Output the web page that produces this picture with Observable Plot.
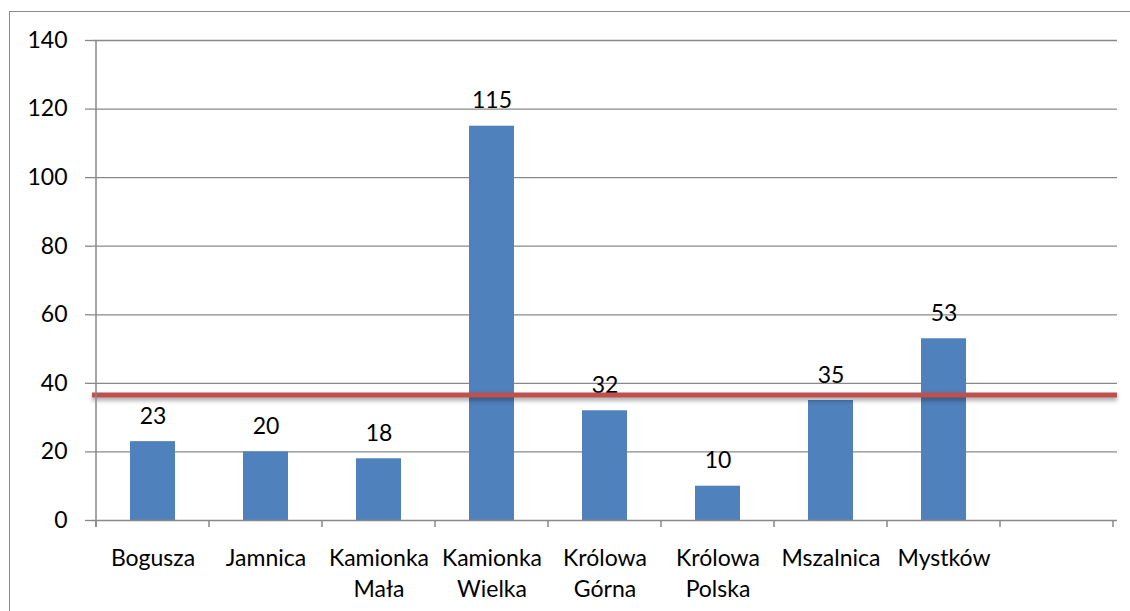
<!DOCTYPE html>
<html><head><meta charset="utf-8">
<script src="https://cdn.jsdelivr.net/npm/d3@7"></script>
<script src="https://cdn.jsdelivr.net/npm/@observablehq/plot@0.6"></script>
<style>
html,body{margin:0;padding:0;background:#fff;}
#wrap{position:relative;width:1130px;height:611px;overflow:hidden;}
#frame{position:absolute;left:9px;top:11px;width:1140px;height:640px;border:1px solid #8a8a8a;box-sizing:border-box;}
#chart{position:absolute;left:0;top:0;}
</style></head><body>
<div id="wrap"><div id="frame"></div><div id="chart"></div></div>
<script>
const categories = ["Bogusza", "Jamnica", "Kamionka\nMała", "Kamionka\nWielka", "Królowa\nGórna", "Królowa\nPolska", "Mszalnica", "Mystków", ""];
const values = [23, 20, 18, 115, 32, 10, 35, 53];
const yTicks = [0, 20, 40, 60, 80, 100, 120, 140];
const average = 36.6;

const data = values.map((v, i) => ({cat: categories[i], value: v}));

const chart = Plot.plot({
  width: 1130, height: 611,
  marginLeft: 92, marginRight: 13, marginTop: 40, marginBottom: 91,
  style: {fontFamily: "Lato", fontSize: "23px", color: "#000", background: "transparent", overflow: "visible"},
  x: {type: "band", domain: categories, padding: 0},
  y: {domain: [0, 140]},
  marks: [
    Plot.ruleY(yTicks.slice(1), {stroke: "#898989", strokeWidth: 1.3, strokeOpacity: 1}),
    Plot.axisY({ticks: yTicks, tickSize: 7, tickPadding: 18, stroke: "#898989", strokeOpacity: 1, strokeWidth: 1.3, label: null, fill: "#000", fontSize: 23, tickFormat: d => String(d)}),
    Plot.axisX({tickSize: 0, tickPadding: 23, label: null, lineHeight: 1.36, fill: "#000", fontSize: 23, letterSpacing: "1.5px"}),
    Plot.barY(data, {x: "cat", y: "value", fill: "#4f81bd", insetLeft: 34, insetRight: 34}),
    Plot.text(data, {x: "cat", y: "value", text: d => String(d.value), lineAnchor: "bottom", dy: -18, fill: "#000", fontSize: 23}),
    Plot.ruleY([average], {stroke: "#c0504d", strokeWidth: 5}),
    Plot.ruleY([0], {stroke: "#898989", strokeWidth: 1.5})
  ]
});
document.getElementById("chart").appendChild(chart);

const sx = chart.scale("x"), sy = chart.scale("y");
const svg = d3.select(chart);
svg.selectAll("[stroke='#c0504d']").style("filter", "drop-shadow(0px 3px 2px rgba(0,0,0,0.35))");
const g = svg.append("g").attr("stroke", "#898989").attr("stroke-width", 1.5);
const y0 = sy.apply(0);
const bounds = categories.map(c => sx.apply(c));
bounds.push(sx.apply(categories[categories.length - 1]) + sx.bandwidth);
bounds.forEach(bx => g.append("line").attr("x1", bx).attr("x2", bx).attr("y1", y0).attr("y2", y0 + 7));
g.append("line").attr("x1", bounds[0]).attr("x2", bounds[0]).attr("y1", sy.apply(140)).attr("y2", y0 + 7);
</script>
</body></html>
